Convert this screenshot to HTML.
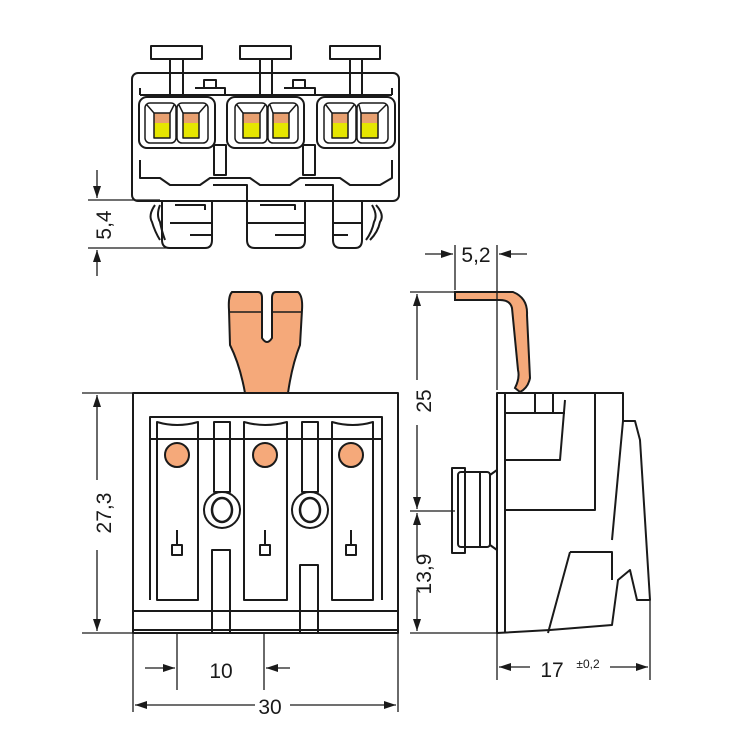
<!DOCTYPE html>
<html><head><meta charset="utf-8"><style>
html,body{margin:0;padding:0;background:#fff}
svg{display:block}
text{font-family:"Liberation Sans",sans-serif;fill:#1a1a1a}
</style></head><body>
<svg width="750" height="750" viewBox="0 0 750 750" xmlns="http://www.w3.org/2000/svg">
<defs>
<marker id="ar" markerWidth="12" markerHeight="8" refX="12" refY="4" orient="auto" markerUnits="userSpaceOnUse"><path d="M0,0 L12,4 L0,8 z" fill="#1a1a1a"/></marker>
</defs>
<g>
<rect x="154" y="113" width="16" height="10" fill="#e8a070"/><rect x="154" y="123" width="16" height="15" fill="#e6e600"/>
<rect x="183" y="113" width="16" height="10" fill="#e8a070"/><rect x="183" y="123" width="16" height="15" fill="#e6e600"/>
<rect x="243" y="113" width="17" height="10" fill="#e8a070"/><rect x="243" y="123" width="17" height="15" fill="#e6e600"/>
<rect x="273" y="113" width="16" height="10" fill="#e8a070"/><rect x="273" y="123" width="16" height="15" fill="#e6e600"/>
<rect x="332" y="113" width="16" height="10" fill="#e8a070"/><rect x="332" y="123" width="16" height="15" fill="#e6e600"/>
<rect x="361" y="113" width="17" height="10" fill="#e8a070"/><rect x="361" y="123" width="17" height="15" fill="#e6e600"/>
</g>
<g fill="none" stroke="#1a1a1a" stroke-width="2" stroke-linejoin="round">
<rect x="151" y="46" width="51" height="13"/>
<rect x="240" y="46" width="51" height="13"/>
<rect x="330" y="46" width="50" height="13"/>
<path d="M170,59 V95 M183,59 V95 M260,59 V95 M272,59 V95 M350,59 V95 M362,59 V95"/>
<rect x="132" y="73" width="267" height="128" rx="6"/>
<path d="M140,95 H392 M140,88 V95 M392,88 V95"/>
<rect x="204" y="80" width="12" height="8"/><rect x="293" y="80" width="12" height="8"/>
<path d="M195,88 H225 V95 M284,88 H315 V95"/>
<rect x="139" y="97" width="76" height="51" rx="8"/>
<rect x="227" y="97" width="77" height="51" rx="8"/>
<rect x="317" y="97" width="78" height="51" rx="8"/>
<g stroke-width="1.5">
<rect x="145" y="103" width="31" height="40" rx="5"/><rect x="177" y="103" width="31" height="40" rx="5"/>
<rect x="235" y="103" width="32" height="40" rx="5"/><rect x="268" y="103" width="30" height="40" rx="5"/>
<rect x="324" y="103" width="32" height="40" rx="5"/><rect x="357" y="103" width="31" height="40" rx="5"/>
<rect x="154" y="113" width="16" height="25"/><rect x="183" y="113" width="16" height="25"/>
<rect x="243" y="113" width="17" height="25"/><rect x="273" y="113" width="16" height="25"/>
<rect x="332" y="113" width="16" height="25"/><rect x="361" y="113" width="17" height="25"/>
<path d="M147,105 L154,113 M174,105 L170,113 M179,105 L183,113 M206,105 L199,113
M237,105 L243,113 M265,105 L260,113 M270,105 L273,113 M296,105 L289,113
M326,105 L332,113 M354,105 L348,113 M359,105 L361,113 M386,105 L378,113"/>
</g>
<rect x="214" y="145" width="12" height="30"/><rect x="303" y="145" width="12" height="30"/>
<path d="M140,160 V178 H160 L170,185 H200 L210,178 H250 L260,185 H290 L300,178 H340 L350,185 H380 L392,178 V160"/>
<path d="M213,185 H247 V201 M305,185 H333 V201"/>
<path d="M162,201 V240 Q162,248 170,248 H205 Q212,248 212,240 V201"/>
<path d="M170,223 H212 M175,205 H205 V210 M190,235 H212"/>
<path d="M247,201 V240 Q247,248 255,248 H298 Q305,248 305,240 V201"/>
<path d="M247,223 H305 M260,205 H295 V210 M275,235 H305"/>
<path d="M333,201 V240 Q333,248 341,248 H355 Q362,248 362,240 V201"/>
<path d="M333,223 H362 M333,235 H348"/>
<path d="M155,205 Q148,215 152,222 Q155,232 160,240 M160,205 Q156,215 160,222 Q162,232 165,240"/>
<path d="M376,205 Q385,215 380,222 Q378,232 370,240 M372,205 Q378,215 374,222 Q372,232 366,240"/>
<rect x="133" y="393" width="265" height="240"/>
<path d="M133,630 H398 M150,600 V417 H382 V600"/>
<path d="M150,439 H382"/>
<path d="M157,600 V422 Q177,428 198,422 V600 Z"/>
<path d="M244,600 V422 Q265,428 287,422 V600 Z"/>
<path d="M332,600 V422 Q353,428 373,422 V600 Z"/>
<rect x="214" y="422" width="16" height="70"/><rect x="302" y="422" width="16" height="70"/>
<circle cx="222" cy="510" r="18"/><circle cx="310" cy="510" r="18"/>
<ellipse cx="222" cy="510" rx="10" ry="12" stroke-width="2.5"/><ellipse cx="310" cy="510" rx="10" ry="12" stroke-width="2.5"/>
<path d="M133,611 H398"/>
<rect x="212" y="550" width="18" height="83"/><rect x="300" y="565" width="18" height="68"/>
<path d="M177,530 V545 M172,545 H182 V555 H172 Z M265,530 V545 M260,545 H270 V555 H260 Z M351,530 V545 M346,545 H356 V555 H346 Z"/>
</g>
<g fill="#f5a97a" stroke="#1a1a1a" stroke-width="2">
<circle cx="177" cy="455" r="12"/><circle cx="265" cy="455" r="12"/><circle cx="351" cy="455" r="12"/>
<path d="M232,292 H258 Q262,292 262,298 V338 Q267,346 272,338 V298 Q272,292 276,292 H298 Q303,296 302,310 L300,345 Q292,365 288,393 H245 Q240,365 230,345 L229,310 Q228,296 232,292 Z"/>
<path d="M455,292 H513 Q528,298 527,315 L530,378 Q528,388 520,392 L515,388 Q520,378 518,370 L512,308 Q510,300 500,300 H455 Z"/>
</g>
<path d="M229,312 H262 M272,312 H302" stroke="#1a1a1a" stroke-width="1.5"/>
<g fill="none" stroke="#1a1a1a" stroke-width="2" stroke-linejoin="round">
<path d="M497,393 H623 V421 H635 L640,440 L650,600 H637 L630,570 L618,580 L612,625 L550,630 L497,633 Z"/>
<path d="M505,393 V633 M505,413 H565 M535,393 V413 M553,393 V413 M565,400 L560,460 H505 M595,393 V510 H505 M570,552 L548,633 M570,552 H612 V580 M623,421 L612,540"/>
<path d="M497,465 V553"/>
<rect x="458" y="472" width="32" height="75" rx="3"/>
<path d="M452,468 H465 V553 H452 Z M480,472 V547 M490,475 L497,470 M490,545 L497,550"/>
<g stroke-width="1.3">
<path d="M97,170 V198" marker-end="url(#ar)"/>
<path d="M97,276 V250" marker-end="url(#ar)"/>
<path d="M88,200 H160 M88,248 H170"/>
<path d="M82,393 H133 M82,633 H133"/>
<path d="M97,480 V395" marker-end="url(#ar)"/>
<path d="M97,550 V631" marker-end="url(#ar)"/>
<path d="M177,633 V690 M264,633 V690 M133,633 V712 M398,633 V712"/>
<path d="M145,668 H175" marker-end="url(#ar)"/>
<path d="M290,668 H266" marker-end="url(#ar)"/>
<path d="M255,705 H135" marker-end="url(#ar)"/>
<path d="M290,705 H396" marker-end="url(#ar)"/>
<path d="M410,292 H455 M410,511 H455 M410,633 H497"/>
<path d="M417,380 V294" marker-end="url(#ar)"/>
<path d="M417,425 V509" marker-end="url(#ar)"/>
<path d="M417,560 V513" marker-end="url(#ar)"/>
<path d="M417,590 V631" marker-end="url(#ar)"/>
<path d="M455,245 V290 M497,245 V390 M497,633 V680 M650,600 V680"/>
<path d="M425,254 H453" marker-end="url(#ar)"/>
<path d="M527,254 H499" marker-end="url(#ar)"/>
<path d="M530,667 H499" marker-end="url(#ar)"/>
<path d="M610,667 H648" marker-end="url(#ar)"/>
</g>
</g>
<g font-size="21">
<text transform="translate(111,225) rotate(-90)" text-anchor="middle">5,4</text>
<text transform="translate(111,513) rotate(-90)" text-anchor="middle">27,3</text>
<text x="221" y="678" text-anchor="middle">10</text>
<text x="270" y="714" text-anchor="middle">30</text>
<text transform="translate(431,401) rotate(-90)" text-anchor="middle">25</text>
<text transform="translate(431,574) rotate(-90)" text-anchor="middle">13,9</text>
<text x="476" y="262" text-anchor="middle">5,2</text>
<text x="552" y="677" text-anchor="middle">17</text>
<text x="588" y="668" text-anchor="middle" font-size="12">±0,2</text>
</g>
</svg>
</body></html>
